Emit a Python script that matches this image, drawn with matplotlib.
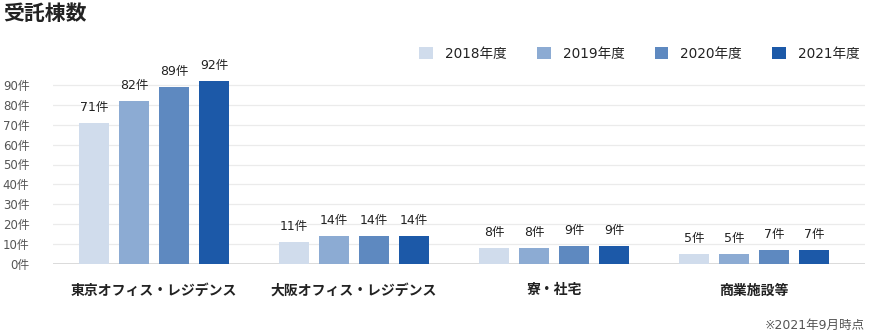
import numpy as np
import matplotlib.pyplot as plt

plt.rcParams['font.family'] = ['Noto Sans CJK JP', 'DejaVu Sans']
num_font = ['DejaVu Sans', 'Noto Sans CJK JP']

categories = ["東京オフィス・レジデンス", "大阪オフィス・レジデンス", "寮・社宅", "商業施設等"]
years = ["2018年度", "2019年度", "2020年度", "2021年度"]
v2018 = [71, 11, 8, 5]
v2019 = [82, 14, 8, 5]
v2020 = [89, 14, 9, 7]
v2021 = [92, 14, 9, 7]
yticks = [0, 10, 20, 30, 40, 50, 60, 70, 80, 90]

series = [v2018, v2019, v2020, v2021]
colors = ["#d0dcec", "#8cabd3", "#5e89c0", "#1c59a8"]

fig = plt.figure(figsize=(8.87, 3.32), dpi=100)
ax = fig.add_axes([53 / 887, 68 / 332, 812 / 887, 199 / 332])

x = np.arange(len(categories))
w = 0.15
offsets = [-0.3, -0.1, 0.1, 0.3]
for vals, off, c, lab in zip(series, offsets, colors, years):
    bars = ax.bar(x + off, vals, w, color=c, label=lab, zorder=3)
    for b, v in zip(bars, vals):
        ax.text(b.get_x() + b.get_width() / 2, v + 4.5, f"{v}件", ha="center", va="bottom",
                fontsize=9, color="#222222", family=num_font)

ax.set_xlim(-0.505, 3.555)
ax.set_ylim(0, 100)
ax.set_yticks(yticks)
ax.set_yticklabels([f"{t}件" for t in yticks], fontsize=8.5, color="#555555", family=num_font)
ax.grid(axis="y", color="#ebebeb", linewidth=0.9, zorder=0)
ax.axhline(0, color="#d5d5d5", linewidth=1.2, zorder=2)
ax.set_xticks(x)
ax.set_xticklabels(categories, fontsize=10, fontweight="bold", color="#222222")
ax.tick_params(axis="both", length=0)
ax.tick_params(axis="x", pad=14)
ax.tick_params(axis="y", pad=17)
for s in ax.spines.values():
    s.set_visible(False)

fig.text(3 / 887, 1 - 14 / 332, "受託棟数", fontsize=15, fontweight="bold", color="#222222",
         ha="left", va="center")
fig.text(865 / 887, 1 - 325 / 332, "※2021年9月時点", fontsize=9, color="#555555",
         ha="right", va="center", family=num_font)

fig.legend(loc="center right", bbox_to_anchor=(872 / 887, 1 - 54 / 332), ncol=4, frameon=False,
           prop={'family': num_font, 'size': 9.8}, handlelength=1.0, handleheight=1.0,
           handletextpad=0.9, columnspacing=2.2, labelcolor="#222222")

fig.savefig("out.png", dpi=100)
